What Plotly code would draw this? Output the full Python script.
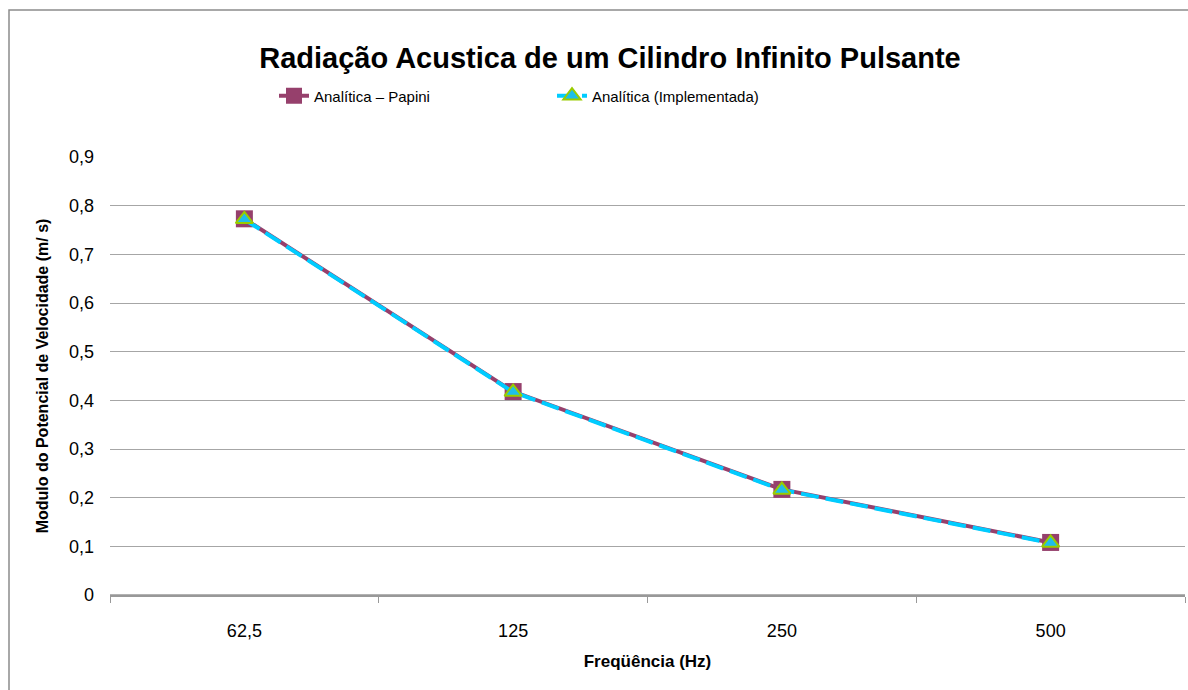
import plotly.graph_objects as go

categories = ["62,5", "125", "250", "500"]
papini = [0.773, 0.418, 0.217, 0.108]
implementada = [0.772, 0.417, 0.216, 0.107]
y_ticks = [0, 0.1, 0.2, 0.3, 0.4, 0.5, 0.6, 0.7, 0.8, 0.9]
y_ticktext = ["0", "0,1", "0,2", "0,3", "0,4", "0,5", "0,6", "0,7", "0,8", "0,9"]

W, H = 1188, 690
L, R, T, B = 110, 3, 157, 95
pw, ph = W - L - R, H - T - B

FONT = "Liberation Sans, Arial, sans-serif"

fig = go.Figure()
fig.add_trace(go.Scatter(
    x=categories, y=papini, name="Analítica – Papini",
    mode="lines+markers",
    line=dict(color="#96406C", width=4),
    marker=dict(symbol="square", size=17, color="#96406C",
                line=dict(color="#96406C", width=0)),
))
fig.add_trace(go.Scatter(
    x=categories, y=implementada, name="Analítica (Implementada)",
    mode="lines+markers",
    line=dict(color="#00CCFF", width=4, dash="18px,7px"),
    marker=dict(symbol="triangle-up", size=15, color="#1EBEEB",
                line=dict(color="#99CC00", width=2)),
))

fig.update_layout(
    width=W, height=H,
    margin=dict(l=L, r=R, t=T, b=B),
    paper_bgcolor="white", plot_bgcolor="white",
    font=dict(family=FONT, color="black"),
    title=dict(text="<b>Radiação Acustica de um Cilindro Infinito Pulsante</b>",
               x=610 / W, xanchor="center", y=1 - 58 / H, yanchor="middle",
               xref="container", yref="container",
               font=dict(size=29, family=FONT)),
    legend=dict(orientation="h", xref="container", yref="container",
                x=274 / W, xanchor="left", y=1 - 96 / H, yanchor="middle",
                font=dict(size=15, family=FONT), entrywidth=233,
                bgcolor="rgba(0,0,0,0)"),
    showlegend=True,
    xaxis=dict(type="category", range=[-0.5, 3.5], tickson="boundaries",
               ticks="outside", ticklen=6, tickcolor="#999999",
               showline=True, linecolor="#999999", linewidth=1.5,
               showgrid=False, tickfont=dict(size=18),
               ticklabelstandoff=19,
               title=dict(text="<b>Freqüência (Hz)</b>", font=dict(size=17), standoff=15)),
    yaxis=dict(range=[0, 0.9], tickvals=y_ticks, ticktext=y_ticktext,
               showline=False, showgrid=True, gridcolor="#A6A6A6", gridwidth=1,
               zeroline=False, ticks="", tickfont=dict(size=18),
               ticklabelstandoff=15,
               title=dict(text="<b>Modulo do Potencial de Velocidade (m/ s)</b>",
                          font=dict(size=16), standoff=16)),
)

fig.add_shape(type="line", xref="paper", yref="paper",
              x0=0, x1=1, y0=0, y1=0, line=dict(color="#999999", width=1.5))

fig.add_shape(type="rect", xref="paper", yref="paper",
              x0=(9 - L) / pw, x1=(W + 10 - L) / pw,
              y0=-(H + 10 - (T + ph)) / ph, y1=(T + ph - 10) / ph,
              line=dict(color="#8C8C8C", width=1.5), fillcolor="rgba(0,0,0,0)",
              layer="below")

fig.write_html("out.html", config={"displayModeBar": False},
               post_script="document.body.style.margin='0';document.body.style.overflow='hidden';")
